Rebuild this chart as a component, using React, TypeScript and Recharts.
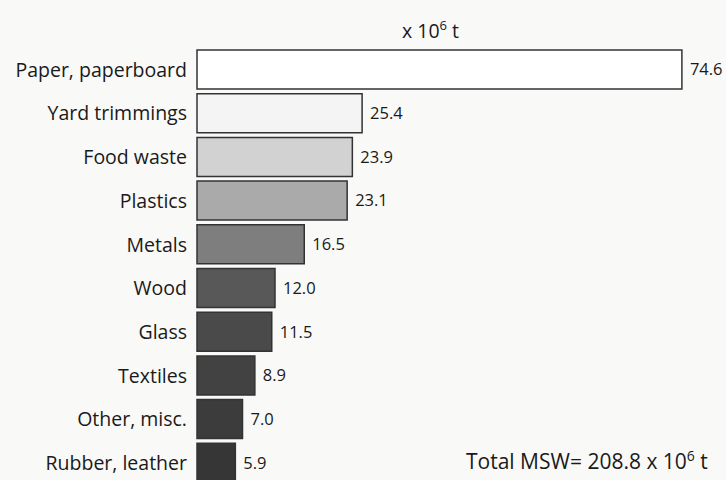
import { Bar, BarChart, Cell, LabelList, XAxis, YAxis } from 'recharts'

const categories = [
  'Paper, paperboard',
  'Yard trimmings',
  'Food waste',
  'Plastics',
  'Metals',
  'Wood',
  'Glass',
  'Textiles',
  'Other, misc.',
  'Rubber, leather',
]
const amounts = [74.6, 25.4, 23.9, 23.1, 16.5, 12.0, 11.5, 8.9, 7.0, 5.9]
const totalMsw = '208.8'

// gray shades from light to dark, one per bar
const barFills = ['#ffffff', '#f4f4f4', '#d2d2d2', '#aaaaaa', '#7e7e7e', '#585858', '#4a4a4a', '#424242', '#3c3c3c', '#363636']

const chartData = categories.map((name, i) => ({ name, value: amounts[i] }))

const font = '"Open Sans", sans-serif'

export default function App() {
  return (
    <div style={{ position: 'absolute', top: 0, left: 0, width: 726, height: 480, overflow: 'hidden', background: '#f9f9f8', fontFamily: font }}>
      <BarChart
        width={726}
        height={492}
        data={chartData}
        layout="vertical"
        margin={{ top: 48, right: 9, bottom: 7, left: 0 }}
      >
        <XAxis type="number" domain={[0, 80]} hide />
        <YAxis
          type="category"
          dataKey="name"
          width={197}
          tickSize={0}
          tickMargin={10}
          axisLine={false}
          tickLine={false}
          interval={0}
          tick={{ fontSize: 19.5, fill: '#1a1a1a', fontFamily: font }}
        />
        <Bar dataKey="value" barSize={39} stroke="#333" strokeWidth={1.5} isAnimationActive={false}>
          {chartData.map((d, i) => (
            <Cell key={d.name} fill={barFills[i]} />
          ))}
          <LabelList
            dataKey="value"
            position="right"
            offset={8}
            formatter={(v: number) => v.toFixed(1)}
            style={{ fontSize: 16.5, fill: '#1a1a1a', fontFamily: font }}
          />
        </Bar>
      </BarChart>
      <div style={{ position: 'absolute', left: 402, top: 16, fontSize: 19.5, color: '#1a1a1a' }}>
        x 10<sup style={{ fontSize: 13 }}>6</sup> t
      </div>
      <div style={{ position: 'absolute', left: 466, top: 446, fontSize: 21, color: '#1a1a1a', whiteSpace: 'nowrap' }}>
        Total MSW= {totalMsw} x 10<sup style={{ fontSize: 14 }}>6</sup> t
      </div>
    </div>
  )
}
